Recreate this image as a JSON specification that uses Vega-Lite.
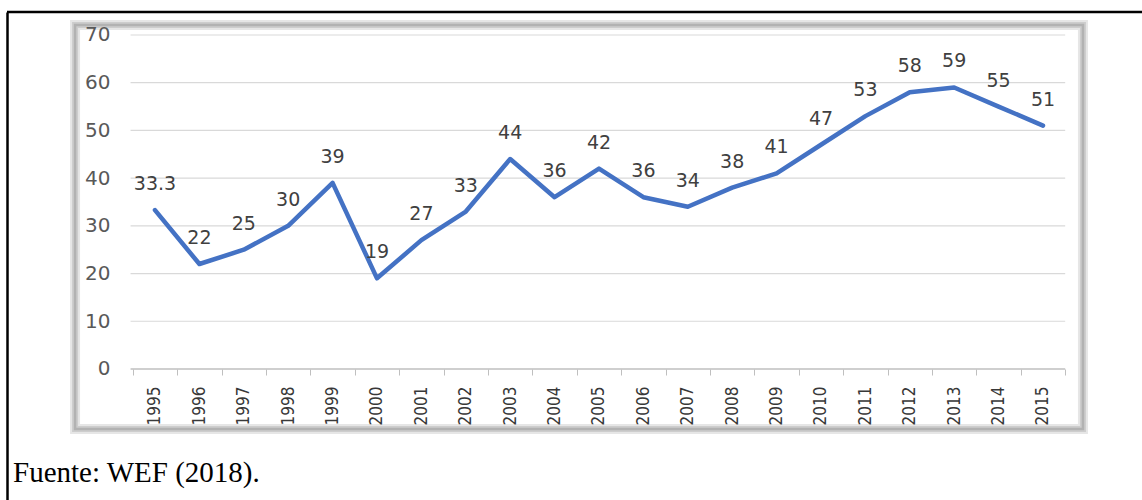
{
  "$schema": "https://vega.github.io/schema/vega-lite/v6.json",
  "width": 1135,
  "height": 488,
  "autosize": {"type": "none"},
  "padding": {"left": 7, "top": 12, "right": 0, "bottom": 0},
  "background": "white",
  "config": {"view": {"stroke": null}},
  "title": {
    "text": "Fuente: WEF (2018).",
    "orient": "bottom",
    "anchor": "start",
    "frame": "group",
    "offset": -41,
    "dx": 6,
    "font": "Liberation Serif",
    "fontSize": 29,
    "fontWeight": "normal",
    "color": "black"
  },
  "datasets": {
    "series": [
      {"year": 1995, "value": 33.3},
      {"year": 1996, "value": 22},
      {"year": 1997, "value": 25},
      {"year": 1998, "value": 30},
      {"year": 1999, "value": 39},
      {"year": 2000, "value": 19},
      {"year": 2001, "value": 27},
      {"year": 2002, "value": 33},
      {"year": 2003, "value": 44},
      {"year": 2004, "value": 36},
      {"year": 2005, "value": 42},
      {"year": 2006, "value": 36},
      {"year": 2007, "value": 34},
      {"year": 2008, "value": 38},
      {"year": 2009, "value": 41},
      {"year": 2010, "value": 47},
      {"year": 2011, "value": 53},
      {"year": 2012, "value": 58},
      {"year": 2013, "value": 59},
      {"year": 2014, "value": 55},
      {"year": 2015, "value": 51}
    ],
    "grid": [{"v": 10}, {"v": 20}, {"v": 30}, {"v": 40}, {"v": 50}, {"v": 60}, {"v": 70}],
    "one": [{}]
  },
  "data": {"name": "series"},
  "layer": [
    {
      "data": {"name": "one"},
      "encoding": {
        "x": {"datum": 1993.2, "type": "quantitative", "scale": {"domain": [1991.667, 2017.23], "nice": false, "zero": false}},
        "x2": {"datum": 2015.9},
        "y": {"datum": 72.1, "type": "quantitative", "scale": {"domain": [-27.46, 74.82], "nice": false, "zero": false}},
        "y2": {"datum": -12.58}
      },
      "layer": [
        {"mark": {"type": "rect", "fill": "white", "stroke": "#e6e6e6", "strokeWidth": 10}},
        {"mark": {"type": "rect", "fill": "transparent", "stroke": "#cdcdcd", "strokeWidth": 6}},
        {"mark": {"type": "rect", "fill": "transparent", "stroke": "#b2b2b2", "strokeWidth": 2.5}}
      ]
    },
    {
      "data": {"name": "grid"},
      "mark": {"type": "rule", "stroke": "#d9d9d9", "strokeWidth": 1.2},
      "encoding": {
        "x": {"datum": 1994.45, "type": "quantitative", "scale": {"domain": [1991.667, 2017.23], "nice": false, "zero": false}},
        "x2": {"datum": 2015.5},
        "y": {"field": "v", "type": "quantitative", "scale": {"domain": [-27.46, 74.82], "nice": false, "zero": false}}
      }
    },
    {
      "data": {"name": "one"},
      "mark": {"type": "rule", "stroke": "#bfbfbf", "strokeWidth": 1.5},
      "encoding": {
        "x": {"datum": 1994.45, "type": "quantitative", "scale": {"domain": [1991.667, 2017.23], "nice": false, "zero": false}},
        "x2": {"datum": 2015.5},
        "y": {"datum": 0, "type": "quantitative", "scale": {"domain": [-27.46, 74.82], "nice": false, "zero": false}}
      }
    },
    {
      "mark": {"type": "line", "stroke": "#4472C4", "strokeWidth": 4.5, "strokeJoin": "round", "strokeCap": "round"},
      "encoding": {
        "x": {
          "field": "year",
          "type": "quantitative",
          "scale": {"domain": [1991.667, 2017.23], "nice": false, "zero": false},
          "axis": {
            "orient": "bottom",
            "zindex": 2,
            "offset": -131,
            "values": [1994.5, 1995.5, 1996.5, 1997.5, 1998.5, 1999.5, 2000.5, 2001.5, 2002.5, 2003.5, 2004.5, 2005.5, 2006.5, 2007.5, 2008.5, 2009.5, 2010.5, 2011.5, 2012.5, 2013.5, 2014.5, 2015.5],
            "domain": false,
            "grid": false,
            "ticks": true,
            "tickColor": "#bfbfbf",
            "tickSize": 6,
            "tickWidth": 1,
            "labelAngle": -90,
            "labelAlign": "right",
            "labelBaseline": "middle",
            "labelPadding": 11,
            "labelOffset": 22.2,
            "labelExpr": "datum.value < 2015 ? format(datum.value + 0.5, 'd') : ''",
            "labelFont": "Liberation Sans Narrow, DejaVu Sans Condensed, sans-serif",
            "labelFontSize": 17,
            "labelColor": "#383838",
            "labelOverlap": false,
            "labelFlush": false,
            "title": null
          }
        },
        "y": {
          "field": "value",
          "type": "quantitative",
          "scale": {"domain": [-27.46, 74.82], "nice": false, "zero": false},
          "axis": {
            "orient": "left",
            "zindex": 2,
            "values": [0, 10, 20, 30, 40, 50, 60, 70],
            "domain": true,
            "domainColor": "black",
            "domainWidth": 2.5,
            "ticks": false,
            "grid": false,
            "labelPadding": -103,
            "labelAlign": "right",
            "labelBaseline": "middle",
            "labelFont": "DejaVu Sans",
            "labelFontSize": 20,
            "labelColor": "#595959",
            "title": null
          }
        }
      }
    },
    {
      "mark": {"type": "text", "dy": -26, "font": "DejaVu Sans", "fontSize": 19, "fill": "#404040"},
      "encoding": {
        "x": {"field": "year", "type": "quantitative", "scale": {"domain": [1991.667, 2017.23], "nice": false, "zero": false}},
        "y": {"field": "value", "type": "quantitative", "scale": {"domain": [-27.46, 74.82], "nice": false, "zero": false}},
        "text": {"field": "value", "type": "nominal"}
      }
    },
    {
      "data": {"name": "one"},
      "mark": {"type": "rule", "stroke": "black", "strokeWidth": 2.5},
      "encoding": {
        "y": {"datum": 74.82, "type": "quantitative", "scale": {"domain": [-27.46, 74.82], "nice": false, "zero": false}}
      }
    }
  ]
}
